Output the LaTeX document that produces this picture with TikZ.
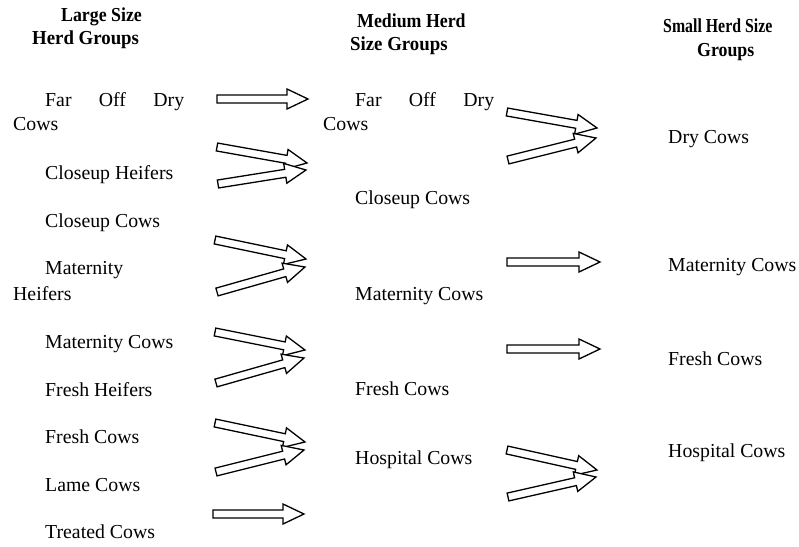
\documentclass[tikz,border=0pt]{standalone}
\usepackage{fontspec}
\setmainfont{Liberation Serif}
\begin{document}
\begin{tikzpicture}[x=1pt,y=1pt,
  txt/.style={anchor=base west, inner sep=0pt, font=\fontsize{19.8}{24}\selectfont},
  head/.style={anchor=base west, inner sep=0pt, font=\fontsize{19.8}{24}\selectfont\bfseries},
  blockarrow/.style={draw=black, fill=white, line width=1.3pt, line join=miter}]
\useasboundingbox (0,0) rectangle (799,-546);
% headings
\node[head] (h1a) at (61,-21) {\scalebox{0.9}[1]{Large Size}};
\node[head] (h1b) at (32,-44) {\scalebox{0.95}[1]{Herd Groups}};
\node[head] (h2a) at (357,-27) {\scalebox{0.9}[1]{Medium Herd}};
\node[head] (h2b) at (350,-50) {\scalebox{0.95}[1]{Size Groups}};
\node[head] (h3a) at (663,-32) {\scalebox{0.8}[1]{Small Herd Size}};
\node[head] (h3b) at (697,-56) {\scalebox{0.9}[1]{Groups}};
% left column
\node[txt] (l1a) at (45,-106) {\makebox[139pt][s]{Far Off Dry}};
\node[txt] (l1b) at (13,-130) {Cows};
\node[txt] (l2) at (45,-179) {Closeup Heifers};
\node[txt] (l3) at (45,-227) {Closeup Cows};
\node[txt] (l4a) at (45,-274) {Maternity};
\node[txt] (l4b) at (13,-300) {Heifers};
\node[txt] (l5) at (45,-348) {Maternity Cows};
\node[txt] (l6) at (45,-396) {Fresh Heifers};
\node[txt] (l7) at (45,-443) {Fresh Cows};
\node[txt] (l8) at (45,-491) {Lame Cows};
\node[txt] (l9) at (45,-538) {Treated Cows};
% middle column
\node[txt] (m1a) at (355,-106) {\makebox[139pt][s]{Far Off Dry}};
\node[txt] (m1b) at (323,-130) {Cows};
\node[txt] (m2) at (355,-204) {Closeup Cows};
\node[txt] (m3) at (355,-300) {Maternity Cows};
\node[txt] (m4) at (355,-395) {Fresh Cows};
\node[txt] (m5) at (355,-464) {Hospital Cows};
% right column
\node[txt] (r1) at (668,-143) {Dry Cows};
\node[txt] (r2) at (668,-271) {Maternity Cows};
\node[txt] (r3) at (668,-365) {Fresh Cows};
\node[txt] (r4) at (668,-457) {Hospital Cows};
% block arrows
\foreach \xa/\ya/\xb/\yb in {
  217/99/308/99,
  217/147/307/163, 218/184/306/170,
  215/240/306/259, 217/292/305/267,
  215/332/305/350, 216/383/304/358,
  215/423/305/442, 216/472/304/450,
  213/514/304/514,
  507/112/597/128, 508/160/596/138,
  507/262/600/262,
  507/349/600/349,
  507/450/597/470, 508/497/596/477}{
  \pgfmathsetmacro\ang{atan2(\ya-\yb,\xb-\xa)}
  \pgfmathsetmacro\len{veclen(\xb-\xa,\yb-\ya)}
  \pgfmathsetmacro\hb{\len-21}
  \draw[blockarrow, shift={(\xa,-\ya)}, rotate=\ang]
    (0,-4) -- (\hb,-4) -- (\hb,-10) -- (\len,0) -- (\hb,10) -- (\hb,4) -- (0,4) -- cycle;
}
\end{tikzpicture}
\end{document}
